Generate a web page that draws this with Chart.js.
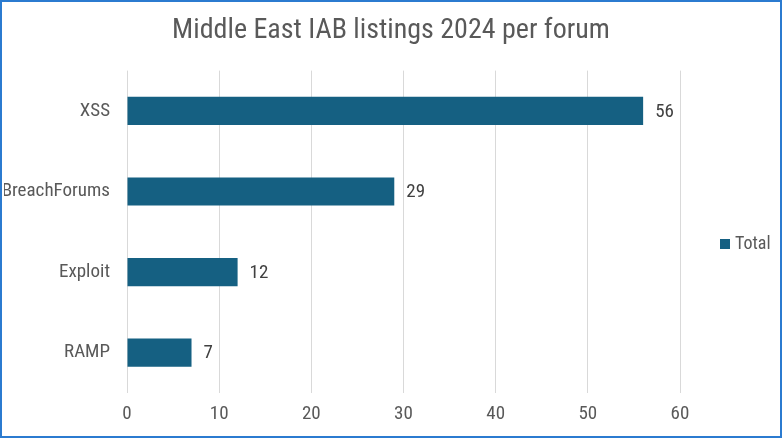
<!DOCTYPE html>
<html>
<head>
<meta charset="utf-8">
<script src="https://cdn.jsdelivr.net/npm/chart.js@4.4.1/dist/chart.umd.min.js"></script>
<style>
  html, body { margin: 0; padding: 0; background: #fff; }
  #wrap { position: relative; width: 782px; height: 438px; }
  #frame { position: absolute; left: 0; top: 0; width: 782px; height: 438px; box-sizing: border-box;
           border: 2px solid #2b7bd0; pointer-events: none; }
</style>
</head>
<body>
<div id="wrap">
  <canvas id="chart" width="782" height="438"></canvas>
  <div id="frame"></div>
</div>
<script>
// data
const forums = ['XSS', 'BreachForums', 'Exploit', 'RAMP'];
const totals = [56, 29, 12, 7];
const xTicks = [0, 10, 20, 30, 40, 50, 60];

const FONT = '"Liberation Sans Narrow", "Roboto Condensed", "DejaVu Sans Condensed", sans-serif';
const GREY = '#595959';
const BAR = '#156082';

const PAD = { left: 4, right: 4, top: 8, bottom: 12 };

// value labels at the end of each bar
const barLabels = {
    id: 'barLabels',
    afterDatasetsDraw: (chart) => {
        const ctx = chart.ctx;
        const meta = chart.getDatasetMeta(0);
        ctx.save();
        ctx.font = '19px ' + FONT;
        ctx.fillStyle = '#404040';
        ctx.textAlign = 'left';
        ctx.textBaseline = 'middle';
        meta.data.forEach((bar, i) => {
            ctx.fillText(String(totals[i]), bar.x + 12, bar.y + 1);
        });
        ctx.restore();
    }
};

// legend on the right, placed like the spreadsheet one
const sideLegend = {
    id: 'sideLegend',
    afterDraw: (chart) => {
        const ctx = chart.ctx;
        const ds = chart.data.datasets[0];
        const x = chart.chartArea.right + 40;
        const y = 244;
        ctx.save();
        ctx.fillStyle = ds.backgroundColor;
        ctx.fillRect(x, y - 5, 10, 10);
        ctx.font = '18px ' + FONT;
        ctx.fillStyle = GREY;
        ctx.textAlign = 'left';
        ctx.textBaseline = 'middle';
        ctx.fillText(ds.label, x + 15, y);
        ctx.restore();
    }
};

Chart.defaults.font.family = FONT;
Chart.defaults.color = GREY;

new Chart(document.getElementById('chart'), {
    type: 'bar',
    data: {
        labels: forums,
        datasets: [{
            label: 'Total',
            data: totals,
            backgroundColor: BAR,
            borderWidth: 0,
            barPercentage: 0.35,
            categoryPercentage: 1
        }]
    },
    options: {
        indexAxis: 'y',
        responsive: false,
        animation: false,
        devicePixelRatio: 1,
        layout: { padding: PAD },
        plugins: {
            title: {
                display: true,
                text: 'Middle East IAB listings 2024 per forum',
                color: GREY,
                font: { size: 28, weight: 'normal' },
                padding: { top: 6, bottom: 23 }
            },
            legend: { display: false },
            tooltip: { enabled: false }
        },
        scales: {
            x: {
                min: 0,
                max: 60,
                afterBuildTicks: (scale) => { scale.ticks = xTicks.map(v => ({ value: v })); },
                afterFit: (scale) => { scale.height = 438 - 393 - PAD.bottom; },
                grid: { color: '#d9d9d9', drawTicks: false },
                border: { display: false },
                ticks: { color: GREY, font: { size: 19 }, padding: 10 }
            },
            y: {
                afterFit: (scale) => { scale.width = 127 - PAD.left; },
                grid: { display: false, drawTicks: false },
                border: { display: false },
                ticks: { color: GREY, font: { size: 19 }, padding: 17 }
            },
            // empty right-hand axis that only reserves room for the legend
            yRight: {
                axis: 'y',
                type: 'category',
                position: 'right',
                afterFit: (scale) => { scale.width = 782 - 680 - PAD.right; },
                grid: { display: false, drawTicks: false },
                border: { display: false },
                ticks: { display: false }
            }
        }
    },
    plugins: [barLabels, sideLegend]
});
</script>
</body>
</html>
